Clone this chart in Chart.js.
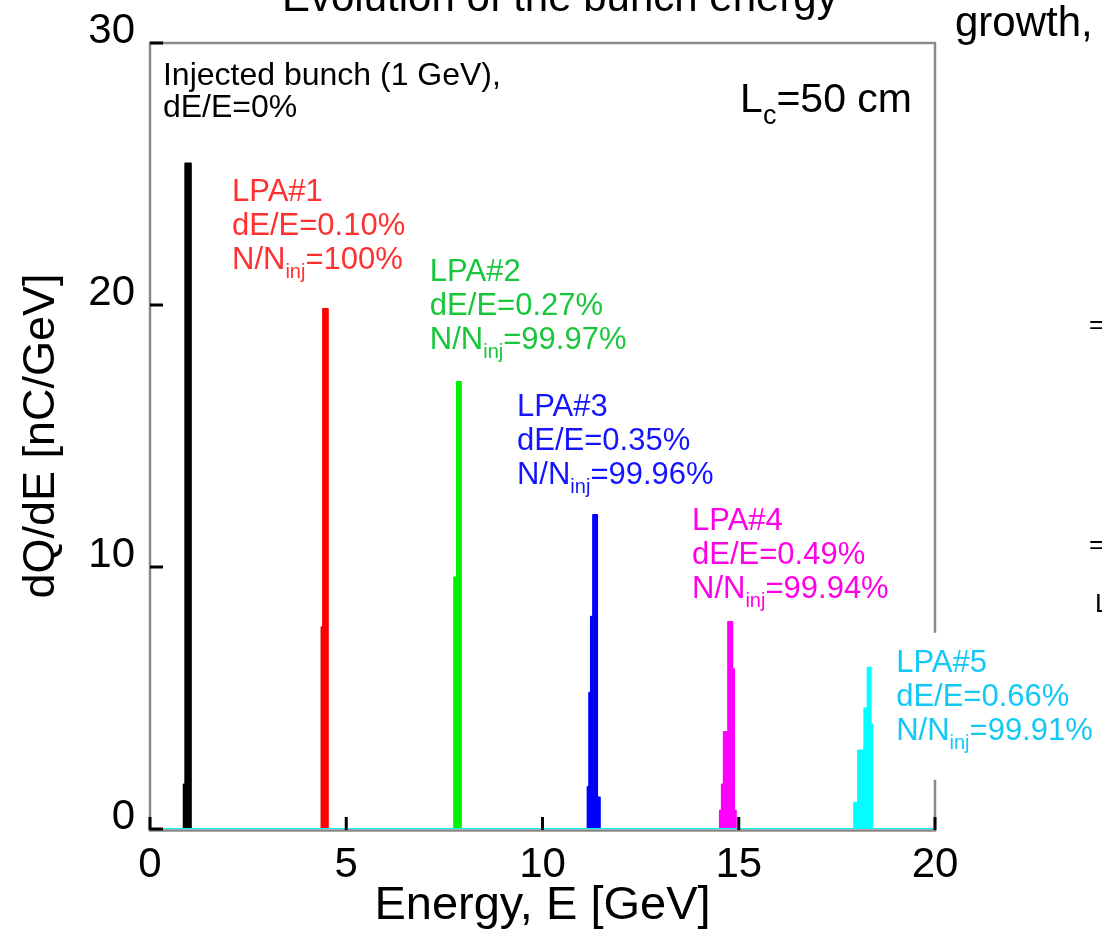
<!DOCTYPE html>
<html>
<head>
<meta charset="utf-8">
<script src="https://cdn.jsdelivr.net/npm/chart.js@4.4.1/dist/chart.umd.min.js"></script>
<style>
  html, body { margin: 0; padding: 0; background: #fff; }
</style>
</head>
<body>
<canvas id="spectra" width="1102" height="936"></canvas>
<script>
// Energy spectra: bin edges in GeV, dQ/dE in nC/GeV; each value holds until the next edge
const energyInj = [0, 0.86, 0.90, 1.04, 20];
const chargeInj = [0, 1.7, 25.4, 0, 0];

const energyLpa1 = [0, 4.37, 4.41, 4.53, 20];
const chargeLpa1 = [0, 7.7, 19.85, 0, 0];

const energyLpa2 = [0, 7.75, 7.82, 7.92, 20];
const chargeLpa2 = [0, 9.6, 17.06, 0, 0];

const energyLpa3 = [0, 11.15, 11.19, 11.235, 11.29, 11.39, 11.46, 20];
const chargeLpa3 = [0, 1.6, 5.2, 8.1, 11.98, 1.2, 0, 0];

const energyLpa4 = [0, 14.52, 14.57, 14.62, 14.73, 14.835, 14.88, 14.925, 20];
const chargeLpa4 = [0, 0.7, 1.7, 3.7, 7.9, 6.1, 0.7, 0, 0];

const energyLpa5 = [0, 17.94, 18.04, 18.20, 18.285, 18.36, 18.40, 20];
const chargeLpa5 = [0, 1.0, 3.0, 4.6, 6.15, 4.0, 0, 0];

const seriesColors = ['#000000', '#ff0000', '#00f000', '#0000ff', '#ff00ff', '#00ffff'];
const labelColors = ['#000000', '#ff3030', '#18c63a', '#1414ff', '#ff00e6', '#14c8f5'];

const xTicks = [0, 5, 10, 15, 20];
const yTicks = [0, 10, 20, 30];

// annotation text, anchored in data units (GeV, nC/GeV)
const notes = [
  { x: 0.33, y: 28.8, lines: [[['Injected bunch (1 GeV),']], [['dE/E=0%']]], color: 0, gap: 32, size: 32 },
  { x: 2.09, y: 24.4, lines: [[['LPA#1']], [['dE/E=0.10%']], [['N/N'], ['inj', 1], ['=100%']]], color: 1 },
  { x: 7.13, y: 21.35, lines: [[['LPA#2']], [['dE/E=0.27%']], [['N/N'], ['inj', 1], ['=99.97%']]], color: 2 },
  { x: 9.35, y: 16.2, lines: [[['LPA#3']], [['dE/E=0.35%']], [['N/N'], ['inj', 1], ['=99.96%']]], color: 3 },
  { x: 13.81, y: 11.85, lines: [[['LPA#4']], [['dE/E=0.49%']], [['N/N'], ['inj', 1], ['=99.94%']]], color: 4 },
  { x: 19.01, y: 6.42, lines: [[['LPA#5']], [['dE/E=0.66%']], [['N/N'], ['inj', 1], ['=99.91%']]], color: 5, box: true }
];

const FONT = '"Liberation Sans", Arial, Helvetica, sans-serif';

function toPoints(xs, ys) {
  return xs.map((x, i) => ({ x: x, y: ys[i] }));
}

const spectra = [
  [energyInj, chargeInj], [energyLpa1, chargeLpa1], [energyLpa2, chargeLpa2],
  [energyLpa3, chargeLpa3], [energyLpa4, chargeLpa4], [energyLpa5, chargeLpa5]
];

const datasets = spectra.map((s, i) => ({
  data: toPoints(s[0], s[1]),
  borderColor: seriesColors[i],
  backgroundColor: seriesColors[i],
  borderWidth: 2,
  borderJoinStyle: 'round',
  fill: 'origin',
  stepped: true,
  pointRadius: 0,
  // later bunches sit on top, so the cyan baseline shows along the axis
  order: spectra.length - 1 - i
}));

// draws a line made of normal and subscript pieces
function drawRich(ctx, parts, x, y, size, align) {
  const subSize = Math.round(size * 0.66);
  let total = 0;
  parts.forEach(p => {
    ctx.font = (p[1] ? subSize : size) + 'px ' + FONT;
    total += ctx.measureText(p[0]).width;
  });
  let cx = align === 'right' ? x - total : x;
  ctx.textAlign = 'left';
  ctx.textBaseline = 'alphabetic';
  parts.forEach(p => {
    ctx.font = (p[1] ? subSize : size) + 'px ' + FONT;
    ctx.fillText(p[0], cx, p[1] ? y + size * 0.3 : y);
    cx += ctx.measureText(p[0]).width;
  });
}

const framePlugin = {
  id: 'frame',
  beforeDatasetsDraw(chart) {
    const { ctx, chartArea: a } = chart;
    ctx.save();
    ctx.strokeStyle = '#8a8a8a';
    ctx.lineWidth = 2.5;
    ctx.strokeRect(a.left, a.top, a.right - a.left, a.bottom + 1.5 - a.top);
    ctx.restore();
  },
  afterDatasetsDraw(chart) {
    const { ctx, chartArea: a, scales } = chart;
    ctx.save();
    ctx.strokeStyle = '#000';
    ctx.lineWidth = 3;
    ctx.beginPath();
    xTicks.forEach(v => {
      const px = scales.x.getPixelForValue(v);
      ctx.moveTo(px, a.bottom + 1);
      ctx.lineTo(px, a.bottom - 12);
    });
    yTicks.forEach(v => {
      const py = scales.y.getPixelForValue(v);
      ctx.moveTo(a.left, py);
      ctx.lineTo(a.left + 13, py);
    });
    ctx.stroke();
    ctx.restore();
  },
  afterDraw(chart) {
    const { ctx, scales } = chart;
    ctx.save();
    ctx.fillStyle = '#000';

    // headings of the neighbouring panels, cut by the page edge
    ctx.font = '42px ' + FONT;
    ctx.textBaseline = 'alphabetic';
    ctx.textAlign = 'left';
    ctx.fillText('Evolution of the bunch energy', 282, 11);
    ctx.fillText('growth,', 955, 36);
    ctx.font = '26px ' + FONT;
    ctx.fillText('=', 1089, 333);
    ctx.fillText('=', 1089, 553);
    ctx.fillText('L', 1095, 612);

    // cell length
    drawRich(ctx, [['L'], ['c', 1], ['=50 cm']], 912, 112, 41, 'right');

    notes.forEach(n => {
      const px = scales.x.getPixelForValue(n.x);
      const py = scales.y.getPixelForValue(n.y);
      const gap = n.gap || 34;
      if (n.box) {
        ctx.fillStyle = '#fff';
        ctx.fillRect(px - 6, py - 28, 1102 - px + 6, 147);
      }
      ctx.fillStyle = labelColors[n.color];
      n.lines.forEach((line, k) => {
        drawRich(ctx, line, px, py + 11 + k * gap, n.size || 31, 'left');
      });
    });
    ctx.restore();
  }
};

new Chart(document.getElementById('spectra'), {
  type: 'line',
  data: { datasets: datasets },
  options: {
    responsive: false,
    animation: false,
    devicePixelRatio: 1,
    layout: { padding: { top: 43, right: 167, left: 0, bottom: 0 } },
    plugins: {
      legend: { display: false },
      tooltip: { enabled: false }
    },
    scales: {
      x: {
        type: 'linear',
        min: 0,
        max: 20,
        afterBuildTicks: s => { s.ticks = xTicks.map(v => ({ value: v })); },
        ticks: { color: '#000', font: { family: FONT, size: 42 }, padding: 11, maxRotation: 0 },
        grid: { display: false, drawTicks: false },
        border: { display: false },
        title: {
          display: true,
          text: 'Energy, E [GeV]',
          color: '#000',
          font: { family: FONT, size: 47 },
          padding: { top: 0, bottom: 2 }
        },
        afterFit: s => { s.height = 107; }
      },
      y: {
        min: 0,
        max: 30,
        afterBuildTicks: s => { s.ticks = yTicks.map(v => ({ value: v })); },
        ticks: { color: '#000', font: { family: FONT, size: 42 }, padding: 15, labelOffset: -12 },
        grid: { display: false, drawTicks: false },
        border: { display: false },
        title: {
          display: true,
          text: 'dQ/dE [nC/GeV]',
          color: '#000',
          font: { family: FONT, size: 45 },
          padding: { top: 15, bottom: 0 }
        },
        afterFit: s => { s.width = 150; }
      }
    }
  },
  plugins: [framePlugin]
});
</script>
</body>
</html>
